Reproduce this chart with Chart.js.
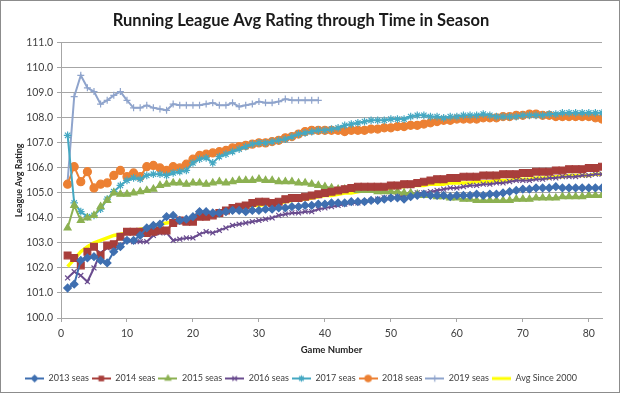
<!DOCTYPE html>
<html lang="en">
<head>
<meta charset="UTF-8" />
<title>Running League Avg Rating through Time in Season</title>
<script src="https://cdn.jsdelivr.net/npm/chart.js"></script>
<style>
  body { margin: 0; background: #fff; }
  #wrap { width: 620px; height: 393px; }
</style>
</head>
<body>
<div id="wrap"><canvas id="grafica" width="620" height="393"></canvas></div>
<script>
// game numbers (x axis)
const games = [1,2,3,4,5,6,7,8,9,10,11,12,13,14,15,16,17,18,19,20,21,22,23,24,25,26,27,28,29,30,
  31,32,33,34,35,36,37,38,39,40,41,42,43,44,45,46,47,48,49,50,51,52,53,54,55,56,57,58,59,60,
  61,62,63,64,65,66,67,68,69,70,71,72,73,74,75,76,77,78,79,80,81,82];
const xTicks = [0,10,20,30,40,50,60,70,80];

const s2013 = [101.2,101.35,102.3,102.4,102.45,102.3,102.2,102.65,102.85,103.1,103.1,103.3,103.6,103.7,103.75,104.05,104.1,103.9,103.95,104.05,
  104.25,104.25,104.2,104.2,104.25,104.3,104.3,104.25,104.3,104.3,104.35,104.35,104.4,104.4,104.45,104.45,104.5,104.5,104.55,104.55,
  104.6,104.6,104.6,104.65,104.65,104.65,104.7,104.7,104.75,104.8,104.8,104.75,104.85,104.9,104.95,104.9,104.9,104.9,104.85,104.9,
  104.9,104.9,104.95,104.9,104.95,104.95,105.0,105.05,105.1,105.15,105.15,105.2,105.2,105.2,105.25,105.2,105.2,105.2,105.2,105.2,105.2,105.2];

const s2014 = [102.5,102.4,102.1,102.65,102.85,102.5,102.9,102.95,103.25,103.45,103.45,103.45,103.4,103.45,103.5,103.5,103.8,103.9,103.85,103.85,
  104.05,104.05,104.1,104.2,104.3,104.4,104.45,104.5,104.6,104.65,104.65,104.6,104.65,104.75,104.8,104.8,104.85,104.9,104.95,105.0,
  105.05,105.1,105.15,105.2,105.25,105.25,105.25,105.25,105.25,105.3,105.3,105.35,105.35,105.4,105.45,105.5,105.55,105.55,105.6,105.6,
  105.65,105.65,105.65,105.7,105.7,105.7,105.75,105.75,105.75,105.8,105.8,105.85,105.85,105.85,105.9,105.9,105.95,105.95,105.95,106.0,106.0,106.05];

const s2015 = [103.6,104.5,103.9,104.0,104.1,104.45,104.7,105.0,104.95,104.95,105.0,105.05,105.1,105.15,105.3,105.35,105.4,105.4,105.35,105.4,
  105.4,105.35,105.4,105.45,105.4,105.45,105.5,105.5,105.5,105.55,105.5,105.5,105.45,105.45,105.45,105.4,105.4,105.35,105.3,105.25,
  105.2,105.15,105.15,105.15,105.1,105.1,105.1,105.05,105.05,105.05,105.05,105.0,105.0,104.95,104.9,104.9,104.85,104.85,104.8,104.8,
  104.75,104.75,104.7,104.7,104.7,104.7,104.7,104.7,104.75,104.75,104.75,104.8,104.8,104.8,104.8,104.85,104.85,104.85,104.85,104.9,104.9,104.9];

const s2016 = [101.6,101.85,101.7,101.45,102.0,102.6,102.8,102.85,102.9,103.1,103.05,103.05,103.05,103.3,103.4,103.4,103.1,103.15,103.2,103.2,
  103.35,103.45,103.4,103.5,103.6,103.7,103.75,103.8,103.85,103.9,103.95,104.0,104.1,104.15,104.2,104.2,104.25,104.25,104.35,104.4,
  104.45,104.5,104.55,104.6,104.6,104.65,104.7,104.75,104.8,104.8,104.85,104.9,104.95,105.0,105.0,105.05,105.1,105.15,105.2,105.2,
  105.25,105.3,105.3,105.35,105.35,105.4,105.4,105.45,105.5,105.5,105.5,105.55,105.55,105.6,105.6,105.65,105.65,105.65,105.7,105.7,105.75,105.75];

const s2017 = [107.3,104.6,104.25,104.05,104.1,104.35,104.75,105.05,105.3,105.5,105.6,105.55,105.7,105.75,105.75,105.7,105.8,105.85,105.9,106.2,
  106.35,106.4,106.2,106.45,106.55,106.65,106.75,106.85,106.95,107.0,107.0,107.05,107.1,107.15,107.25,107.35,107.4,107.45,107.5,107.5,
  107.55,107.6,107.7,107.75,107.8,107.85,107.9,107.9,107.9,107.95,107.95,107.95,108.05,108.1,108.1,108.05,108.05,108.0,108.05,108.05,
  108.1,108.1,108.1,108.15,108.1,108.05,108.05,108.05,108.05,108.1,108.1,108.1,108.1,108.15,108.15,108.2,108.2,108.2,108.2,108.2,108.2,108.2];

const s2018 = [105.35,106.05,105.45,105.85,105.2,105.35,105.4,105.7,105.9,105.65,105.8,105.65,106.05,106.1,106.0,105.9,106.05,106.0,106.15,106.35,
  106.5,106.55,106.6,106.65,106.7,106.8,106.85,106.9,106.95,107.0,107.0,107.05,107.1,107.2,107.25,107.35,107.45,107.5,107.5,107.5,
  107.5,107.5,107.45,107.5,107.5,107.5,107.55,107.55,107.6,107.6,107.65,107.65,107.7,107.7,107.75,107.8,107.85,107.9,107.9,107.95,
  107.95,107.95,107.95,108.0,108.0,108.0,108.05,108.05,108.1,108.1,108.15,108.15,108.1,108.1,108.05,108.05,108.05,108.05,108.05,108.05,108.0,107.95];

const s2019 = [105.45,108.85,109.7,109.2,109.05,108.55,108.7,108.9,109.05,108.7,108.4,108.4,108.5,108.4,108.35,108.3,108.55,108.5,108.5,108.5,
  108.5,108.55,108.6,108.5,108.5,108.6,108.45,108.5,108.55,108.65,108.6,108.6,108.65,108.75,108.7,108.7,108.7,108.7,108.7];

const avg2000 = [102.05,102.35,102.65,102.85,103.0,103.1,103.2,103.3,103.35,103.4,103.5,103.55,103.6,103.7,103.75,103.8,103.85,103.9,103.95,104.0,
  104.1,104.15,104.2,104.25,104.3,104.35,104.4,104.45,104.5,104.5,104.55,104.6,104.6,104.65,104.7,104.75,104.75,104.8,104.85,104.9,
  104.9,104.95,105.0,105.0,105.05,105.1,105.1,105.15,105.2,105.2,105.25,105.25,105.3,105.3,105.3,105.35,105.35,105.35,105.4,105.4,
  105.4,105.4,105.45,105.45,105.45,105.5,105.5,105.5,105.55,105.55,105.55,105.6,105.6,105.6,105.65,105.65,105.7,105.7,105.7,105.7,105.75,105.75];

const seriesNames = ["2013 seas","2014 seas","2015 seas","2016 seas","2017 seas","2018 seas","2019 seas","Avg Since 2000"];

function pts(vals) {
  return vals.map((v, i) => ({ x: games[i], y: v }));
}

// small line + marker picture for the legend, like Excel
function simbolo(color, estilo, radio, grosor) {
  const c = document.createElement('canvas');
  c.width = 19; c.height = 10;
  const ctx = c.getContext('2d');
  ctx.strokeStyle = color;
  ctx.lineWidth = grosor;
  ctx.beginPath(); ctx.moveTo(0, 5); ctx.lineTo(19, 5); ctx.stroke();
  if (estilo) {
    ctx.fillStyle = color;
    ctx.lineWidth = 1.2;
    Chart.helpers.drawPoint(ctx, { pointStyle: estilo, radius: radio, rotation: 0, borderWidth: 1.2 }, 9.5, 5);
  }
  return c;
}

const fuente = "Lato, 'Open Sans', sans-serif";

const datasets = [
  { label: seriesNames[0], data: pts(s2013), borderColor: "#3f6fb0", backgroundColor: "#3f6fb0", pointStyle: "rectRot", pointRadius: 3.8, borderWidth: 2 },
  { label: seriesNames[1], data: pts(s2014), borderColor: "#a83e3b", backgroundColor: "#a83e3b", pointStyle: "rect", pointRadius: 4.8, borderWidth: 2 },
  { label: seriesNames[2], data: pts(s2015), borderColor: "#8cb152", backgroundColor: "#8cb152", pointStyle: "triangle", pointRadius: 4, borderWidth: 2 },
  { label: seriesNames[3], data: pts(s2016), borderColor: "#6a4c8f", backgroundColor: "#6a4c8f", pointStyle: "crossRot", pointRadius: 3.5, borderWidth: 2 },
  { label: seriesNames[4], data: pts(s2017), borderColor: "#45a8c2", backgroundColor: "#45a8c2", pointStyle: "star", pointRadius: 3.8, borderWidth: 2 },
  { label: seriesNames[5], data: pts(s2018), borderColor: "#ec8033", backgroundColor: "#ec8033", pointStyle: "circle", pointRadius: 4, borderWidth: 2 },
  { label: seriesNames[6], data: pts(s2019), borderColor: "#8fa4cc", backgroundColor: "#8fa4cc", pointStyle: "cross", pointRadius: 3.5, borderWidth: 2 },
  { label: seriesNames[7], data: pts(avg2000), borderColor: "#ffff00", backgroundColor: "#ffff00", pointStyle: false, pointRadius: 0, borderWidth: 3.5 }
];
datasets.forEach(d => {
  d.pointBorderColor = d.borderColor;
  d.pointBorderWidth = 1.2;
  d.pointHoverRadius = d.pointRadius;
  d.tension = 0;
  d.fill = false;
  d.legendSym = simbolo(d.borderColor, d.pointStyle, Math.min(d.pointRadius, 3.2), d.borderWidth === 3.5 ? 3 : 2);
});

const marco = {
  id: 'marco',
  afterDraw(chart) {
    const ctx = chart.ctx;
    ctx.save();
    ctx.strokeStyle = '#8c8c8c';
    ctx.lineWidth = 1;
    ctx.strokeRect(0.5, 0.5, chart.width - 1, chart.height - 1);
    ctx.restore();
  }
};

new Chart(document.getElementById("grafica"), {
  type: 'line',
  data: { datasets: datasets },
  plugins: [marco],
  options: {
    responsive: false,
    animation: false,
    layout: { padding: { left: 0, right: 18, top: 0, bottom: 0 } },
    plugins: {
      title: {
        display: true,
        text: "Running League Avg Rating through Time in Season",
        color: "#1a1a1a",
        font: { family: fuente, size: 16.5, weight: 'bold' },
        padding: { top: 11, bottom: 12 }
      },
      legend: {
        position: 'bottom',
        labels: {
          usePointStyle: true,
          pointStyleWidth: 19,
          boxHeight: 10,
          padding: 3,
          color: "#404040",
          font: { family: fuente, size: 9 },
          generateLabels(chart) {
            return Chart.defaults.plugins.legend.labels.generateLabels(chart).map(l => {
              l.pointStyle = chart.data.datasets[l.datasetIndex].legendSym;
              return l;
            });
          }
        }
      },
      tooltip: { enabled: false }
    },
    scales: {
      x: {
        type: 'linear',
        min: 0,
        max: 82,
        afterBuildTicks(scale) {
          scale.ticks = xTicks.map(v => ({ value: v }));
        },
        ticks: { autoSkip: false, color: "#404040", font: { family: fuente, size: 10.5 }, maxRotation: 0, padding: 5 },
        grid: { drawOnChartArea: false, drawTicks: true, tickLength: 4, color: "#a6a6a6" },
        border: { display: true, color: "#a6a6a6" },
        title: { display: true, text: "Game Number", color: "#262626", font: { family: fuente, size: 9.5, weight: 'bold' }, padding: { top: 0, bottom: 15 } }
      },
      y: {
        min: 100,
        max: 111,
        ticks: { stepSize: 1, color: "#404040", font: { family: fuente, size: 10.5 }, padding: 4,
          callback: v => v.toFixed(1) },
        grid: { color: "#a6a6a6", lineWidth: 1, tickLength: 4 },
        border: { display: true, color: "#a6a6a6" },
        afterFit(scale) { scale.width = 61; },
        title: { display: true, text: "League Avg Rating", color: "#262626", font: { family: fuente, size: 9, weight: 'bold' }, padding: { top: 14, bottom: 0 } }
      }
    }
  }
});
</script>
</body>
</html>
